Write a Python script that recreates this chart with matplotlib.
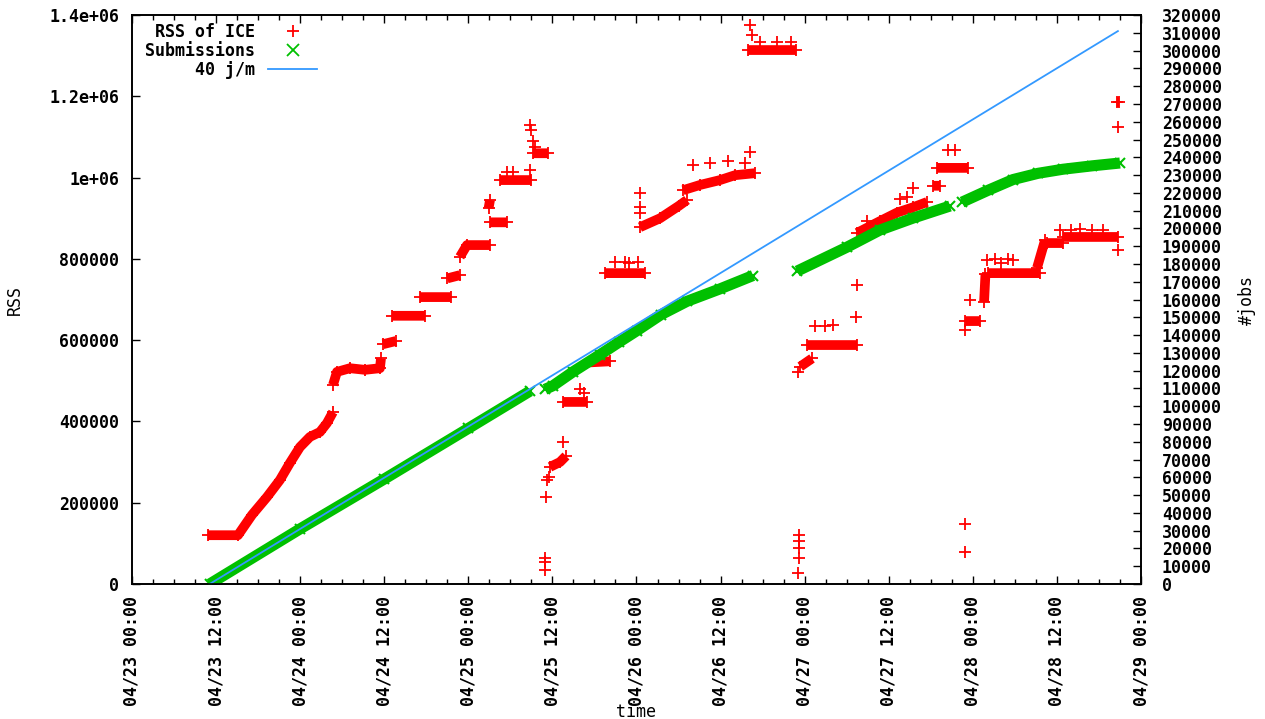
import numpy as np
import pandas as pd
import matplotlib
matplotlib.use("Agg")
import matplotlib.pyplot as plt
import matplotlib.dates as mdates
from matplotlib.lines import Line2D
from matplotlib.ticker import FuncFormatter, MultipleLocator

nan = np.nan
t0 = pd.Timestamp("2008-04-23 00:00")

# RSS of ICE, hours since 04/23 00:00 -- dense clusters, nan = break
rss_h = [10.85, 15.13, 17.13, 19.27, 21.12, 22.55, 23.98, 25.40, 26.83, 27.83, 28.69, nan,
         28.69, 29.26, 31.11, 33.25, 35.39, 35.54, nan,
         35.82, 37.68, nan,
         37.11, 41.82, nan,
         41.10, 45.50, nan,
         45.00, 46.80, nan,
         46.80, 47.81, 51.10, nan,
         51.09, 53.52, nan,
         50.90, 51.10, nan,
         52.52, 57.00, nan,
         57.20, 59.40, nan,
         59.66, 61.08, 61.94, nan,
         61.51, 64.94, nan,
         65.00, 68.22, nan,
         67.51, 73.22, nan,
         72.50, 75.36, 78.00, 79.21, nan,
         78.64, 81.07, 83.92, 86.06, 88.92, nan,
         87.92, 94.79, nan,
         95.37, 97.05, nan,
         96.37, 103.47, nan,
         103.47, 106.75, 109.18, 111.46, 113.46, nan,
         114.32, 115.32, nan,
         114.89, 119.31, nan,
         118.90, 121.03, nan,
         121.60, 121.80, nan,
         122.17, 129.59, nan,
         129.16, 130.30, nan,
         130.59, 132.87, nan,
         132.87, 140.72, nan,
         140.50, 140.90]
rss_v = [120000, 120000, 170000, 214000, 256000, 298000, 337000, 362000, 374000, 396000, 423000, nan,
         490000, 522000, 531000, 527000, 531000, 555000, nan,
         590000, 598000, nan,
         660000, 660000, nan,
         706000, 706000, nan,
         752000, 760000, nan,
         805000, 834000, 834000, nan,
         890000, 890000, nan,
         925000, 945000, nan,
         994000, 994000, nan,
         1060000, 1060000, nan,
         288000, 300000, 315000, nan,
         448000, 448000, nan,
         545000, 548000, nan,
         765000, 765000, nan,
         878000, 900000, 930000, 945000, nan,
         969000, 982000, 994000, 1006000, 1011000, nan,
         1314000, 1314000, nan,
         535000, 555000, nan,
         588000, 588000, nan,
         864000, 893000, 914000, 927000, 940000, nan,
         980000, 980000, nan,
         1024000, 1024000, nan,
         647000, 647000, nan,
         694000, 763000, nan,
         765000, 765000, nan,
         778000, 846000, nan,
         839000, 839000, nan,
         854000, 854000, nan,
         1186000, 1186000]

# isolated RSS samples
out_h = [56.80, 56.94, 57.23, 57.52, 53.52, 54.38, 56.80,
         58.94, 58.94, 58.94, 59.09, 59.23, 59.51, 61.51, 63.94, 64.50,
         68.93, 70.36, 71.00, 72.20, 72.50, 72.50, 72.50,
         80.00, 82.50, 85.00, 87.50, 88.21, 88.21, 88.49, 89.60, 92.00, 94.00,
         95.22, 95.22, 95.22, 95.22, 95.07, 95.07,
         97.50, 98.90, 100.05, 103.30, 103.47, 104.90, 109.61, 110.61, 111.46,
         116.46, 117.50, 118.89, 118.89, 118.90, 119.60,
         122.03, 123.20, 124.00, 125.00, 125.74,
         132.44, 134.00, 135.30, 137.00, 138.58, 140.72, 140.72]
out_v = [1129000, 1117000, 1090000, 1075000, 1014000, 1014000, 1018000,
         64000, 54000, 34000, 214000, 256000, 263000, 349000, 480000, 470000,
         792000, 792000, 790000, 792000, 962000, 928000, 913000,
         1030000, 1035000, 1040000, 1035000, 1063000, 1375000, 1350000, 1333000, 1333000, 1333000,
         121000, 105000, 89000, 64000, 27000, 521000,
         635000, 635000, 637000, 657000, 736000, 893000, 947000, 952000, 974000,
         1068000, 1068000, 148000, 79000, 625000, 699000,
         797000, 800000, 790000, 800000, 797000,
         871000, 871000, 873000, 871000, 871000, 822000, 1124000]

# submissions (#jobs)
sub_h = [11.10, 24.00, 36.00, 48.00, 56.80, nan,
         58.94, 60.08, 63.00, 66.79, 69.50, 72.07, 75.50, 79.21, 83.92, 88.63, nan,
         94.93, 102.06, 106.75, 111.46, 116.74, nan,
         118.46, 122.20, 125.74, 129.30, 132.87, 137.00, 141.00]
sub_v = [0, 31000, 59000, 87500, 108500, nan,
         109500, 111500, 119500, 129000, 136000, 142500, 151500, 159000, 166000, 173500, nan,
         176000, 189500, 199100, 205800, 212600, nan,
         214800, 221500, 227500, 231000, 233300, 235200, 236800]

# 40 jobs/min reference line (end points)
ref_h = [11.10, 140.70]
ref_v = [0, 311000]

RED = "#ff0000"
GREEN = "#00c000"
BLUE = "#3399ff"

plt.rcParams["font.family"] = "DejaVu Sans Mono"
plt.rcParams["font.weight"] = "bold"
plt.rcParams["font.size"] = 12

base = mdates.date2num(t0.to_pydatetime())
def tx(h):
    return base + np.asarray(h, dtype=float) / 24.0

fig = plt.figure(figsize=(12.65, 7.19), dpi=100)
ax = fig.add_axes([0.1043, 0.1878, 0.902 - 0.1043, 0.979 - 0.1878])
ax2 = ax.twinx()

ax.plot(tx(rss_h), rss_v, color=RED, lw=7, solid_capstyle="butt",
        marker="+", ms=9, mew=1.3)
ax.plot(tx(out_h), out_v, ls="none", color=RED, marker="+", ms=9, mew=1.3)

ax2.plot(tx(sub_h), sub_v, color=GREEN, lw=8, solid_capstyle="butt",
         marker="x", ms=7, mew=1.5)
ax2.plot(tx(ref_h), ref_v, color=BLUE, lw=1.3)

ax.set_xlim(base, base + 6)
ax.set_ylim(0, 1.4e6)
ax2.set_ylim(0, 320000)

ax.xaxis.set_major_locator(mdates.HourLocator(byhour=[0, 12]))
ax.xaxis.set_minor_locator(mdates.HourLocator(byhour=range(0, 24, 3)))
ax.xaxis.set_major_formatter(mdates.DateFormatter("%m/%d %H:%M"))
ax.yaxis.set_major_locator(MultipleLocator(200000))
ax.yaxis.set_major_formatter(FuncFormatter(lambda v, p: "%g" % v))
ax2.yaxis.set_major_locator(MultipleLocator(10000))
ax2.yaxis.set_major_formatter(FuncFormatter(lambda v, p: "%g" % v))

ax.tick_params(axis="x", which="both", direction="in", top=True, labelrotation=90, pad=9)
ax.tick_params(axis="x", which="major", length=6, width=1)
ax.tick_params(axis="x", which="minor", length=3.5, width=1)
ax.tick_params(axis="y", direction="in", right=False, length=6, width=1, pad=9)
ax2.tick_params(axis="y", direction="in", length=6, width=1, pad=15)

for a in (ax, ax2):
    for s in a.spines.values():
        s.set_linewidth(1.2)

ax.set_ylabel("RSS")
ax.yaxis.set_label_coords(-0.107, 0.5)
ax2.set_ylabel("#jobs")
ax2.yaxis.set_label_coords(1.096, 0.5)
ax.set_xlabel("time")
ax.xaxis.set_label_coords(0.5, -0.209)

handles = [Line2D([], [], ls="none", color=RED, marker="+", ms=9, mew=1.3),
           Line2D([], [], ls="none", color=GREEN, marker="x", ms=8, mew=1.3),
           Line2D([], [], color=BLUE, lw=1.3)]
labels = ["RSS of ICE", "Submissions", "40 j/m"]
ax2.legend(handles, labels, loc="upper left", bbox_to_anchor=(0.013, 0.986),
           markerfirst=False, frameon=False, handlelength=2.9, handletextpad=0.8,
           labelspacing=0.05, borderaxespad=0, borderpad=0)

fig.savefig("out.png", dpi=100)
